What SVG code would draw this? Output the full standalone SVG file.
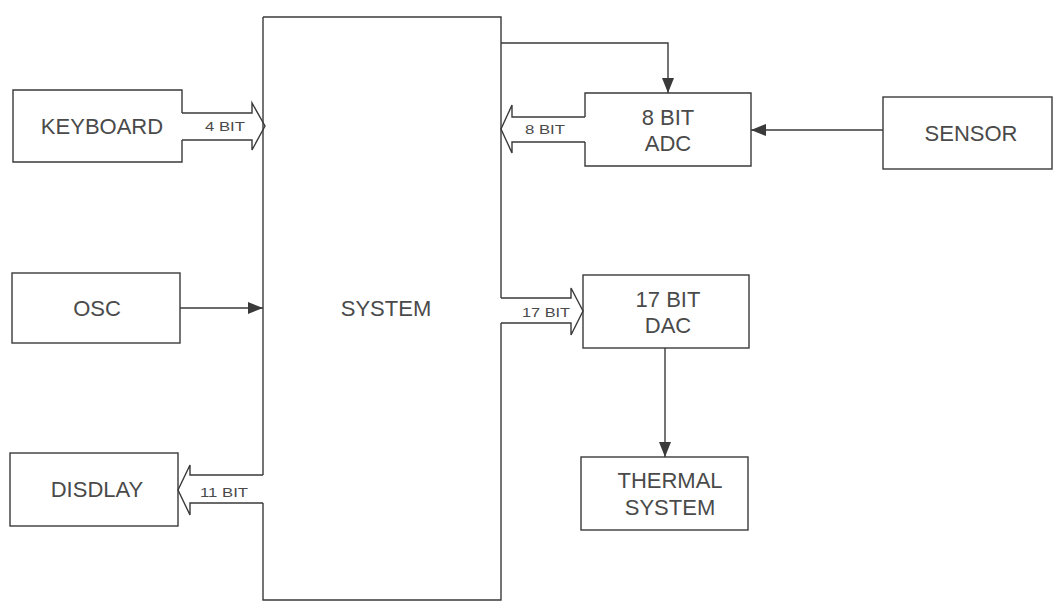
<svg xmlns="http://www.w3.org/2000/svg" width="1055" height="613" viewBox="0 0 1055 613">
<style>
.ln{fill:none;stroke:#3a3a3a;stroke-width:1.4;stroke-linejoin:miter}
.bx{fill:#fff;stroke:#3a3a3a;stroke-width:1.4}
.t{font-family:"Liberation Sans",Arial,sans-serif;font-size:22px;fill:#4a4a4a;text-anchor:middle}
.s{font-family:"Liberation Sans",Arial,sans-serif;font-size:12px;fill:#4a4a4a}
</style>
<defs>
<marker id="ah" markerWidth="16" markerHeight="12" refX="15" refY="6" orient="auto" markerUnits="userSpaceOnUse">
<path d="M0,0 L15,6 L0,12 Z" fill="#3a3a3a"/>
</marker>
</defs>
<rect width="1055" height="613" fill="#fff"/>
<g id="system">
<path class="ln" d="M263,17 L501,17 L501,298 M501,323 L501,600 L263,600 L263,503 M263,475 L263,17"/>
<text class="t" x="386" y="316">SYSTEM</text>
</g>
<g id="keyboard">
<path class="ln" d="M182,113 L182,90 L13,90 L13,162 L182,162 L182,140"/>
<text class="t" x="102" y="134">KEYBOARD</text>
</g>
<g id="osc">
<rect class="bx" x="12" y="273" width="168" height="70"/>
<text class="t" x="97" y="316">OSC</text>
</g>
<g id="display">
<rect class="bx" x="10" y="453" width="168" height="73"/>
<text class="t" x="97" y="497">DISDLAY</text>
</g>
<g id="adc">
<path class="ln" d="M585,117 L585,93 L751,93 L751,166 L585,166 L585,142"/>
<text class="t" x="668" y="125">8 BIT</text>
<text class="t" x="668" y="151">ADC</text>
</g>
<g id="sensor">
<rect class="bx" x="883" y="97" width="169" height="72"/>
<text class="t" x="971" y="141">SENSOR</text>
</g>
<g id="dac">
<rect class="bx" x="583" y="275" width="166" height="73"/>
<text class="t" x="668" y="307">17 BIT</text>
<text class="t" x="668" y="333">DAC</text>
</g>
<g id="thermal">
<rect class="bx" x="581" y="457" width="167" height="73"/>
<text class="t" x="670" y="488">THERMAL</text>
<text class="t" x="670" y="515">SYSTEM</text>
</g>
<g id="connectors">
<path class="ln" d="M182,113 L252,113 L252,103 L265,126 L252,150 L252,140 L182,140"/>
<text class="s" x="205" y="131" textLength="40" lengthAdjust="spacingAndGlyphs">4 BIT</text>
<path class="ln" d="M585,117 L512,117 L512,105 L501,129 L512,153 L512,142 L585,142"/>
<text class="s" x="525" y="134" textLength="40" lengthAdjust="spacingAndGlyphs">8 BIT</text>
<path class="ln" d="M501,298 L571,298 L571,288 L583,311 L571,335 L571,323 L501,323"/>
<text class="s" x="522" y="317" textLength="48" lengthAdjust="spacingAndGlyphs">17 BIT</text>
<path class="ln" d="M263,475 L190,475 L190,465 L178,490 L190,515 L190,503 L263,503"/>
<text class="s" x="200" y="497" textLength="48" lengthAdjust="spacingAndGlyphs">11 BIT</text>
<path class="ln" d="M180,308 L263,308" marker-end="url(#ah)"/>
<path class="ln" d="M501,43 L668,43 L668,93" marker-end="url(#ah)"/>
<path class="ln" d="M883,130 L751,130" marker-end="url(#ah)"/>
<path class="ln" d="M665,348 L665,457" marker-end="url(#ah)"/>
</g>
</svg>
